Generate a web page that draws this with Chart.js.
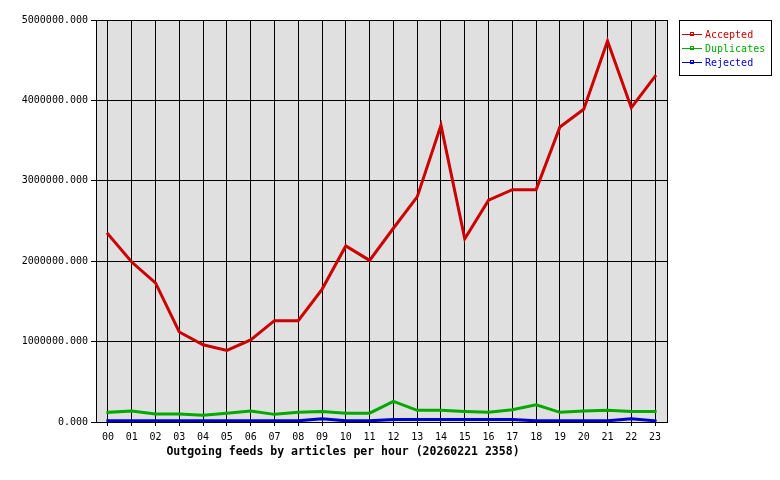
<!DOCTYPE html>
<html>
<head>
<meta charset="utf-8">
<script src="https://cdn.jsdelivr.net/npm/chart.js@4/dist/chart.umd.min.js"></script>
<style>
html,body{margin:0;padding:0;background:#fff;}
#wrap{width:780px;height:480px;}
</style>
</head>
<body>
<div id="wrap"><canvas id="c" width="780" height="480"></canvas></div>
<script>
const hours = ["00","01","02","03","04","05","06","07","08","09","10","11","12","13","14","15","16","17","18","19","20","21","22","23"];
const accepted = [2340000,1990000,1730000,1120000,960000,890000,1020000,1260000,1260000,1650000,2190000,2010000,2410000,2800000,3690000,2280000,2760000,2890000,2890000,3670000,3890000,4740000,3910000,4300000];
const duplicates = [120000,137000,100000,100000,83000,110000,137000,95000,120000,130000,110000,110000,257000,145000,145000,130000,120000,153000,215000,120000,137000,145000,130000,130000];
const rejected = [15000,15000,15000,15000,15000,15000,15000,15000,15000,40000,15000,15000,30000,30000,30000,30000,30000,30000,15000,15000,15000,15000,40000,15000];
const yTicks = [0,1000000,2000000,3000000,4000000,5000000];
const titleText = "Outgoing feeds by articles per hour (20260221 2358)";

const MONO = '"DejaVu Sans Mono", "Liberation Mono", monospace';

const decor = {
  id: 'decor',
  beforeDraw(chart) {
    const a = chart.chartArea, ctx = chart.ctx;
    ctx.save();
    ctx.fillStyle = '#e0e0e0';
    ctx.fillRect(a.left, a.top, a.right - a.left, a.bottom - a.top);
    ctx.restore();
  },
  afterDraw(chart) {
    const a = chart.chartArea, ctx = chart.ctx;
    ctx.save();
    ctx.strokeStyle = '#000';
    ctx.lineWidth = 1;
    ctx.strokeRect(Math.round(a.left) + 0.5, Math.round(a.top) + 0.5, Math.round(a.right - a.left), Math.round(a.bottom - a.top));
    // title
    ctx.fillStyle = '#000';
    ctx.font = 'bold 11.5px ' + MONO;
    ctx.textAlign = 'center';
    ctx.textBaseline = 'middle';
    ctx.fillText(titleText, 343, 452);
    // legend
    const lx = 679, ly = 20, lw = 92, lh = 55;
    ctx.fillStyle = '#fff';
    ctx.fillRect(lx, ly, lw, lh);
    ctx.strokeStyle = '#000';
    ctx.strokeRect(lx + 0.5, ly + 0.5, lw, lh);
    ctx.font = '10px ' + MONO;
    ctx.textAlign = 'left';
    chart.data.datasets.forEach((ds, i) => {
      const y = 34 + i * 14;
      ctx.strokeStyle = ds.borderColor;
      ctx.lineWidth = 1;
      ctx.beginPath();
      ctx.moveTo(682, y + 0.5);
      ctx.lineTo(702, y + 0.5);
      ctx.stroke();
      ctx.strokeRect(690.5, y - 1.5, 3, 3);
      ctx.fillStyle = ds.borderColor;
      ctx.fillText(ds.label, 705, y + 1);
    });
    ctx.restore();
  }
};

new Chart(document.getElementById('c'), {
  type: 'line',
  data: {
    labels: hours,
    datasets: [
      {label: 'Accepted', data: accepted, borderColor: '#cc0000', backgroundColor: '#cc0000'},
      {label: 'Duplicates', data: duplicates, borderColor: '#00aa00', backgroundColor: '#00aa00'},
      {label: 'Rejected', data: rejected, borderColor: '#0000cc', backgroundColor: '#0000cc'}
    ]
  },
  options: {
    responsive: false,
    animation: false,
    devicePixelRatio: 1,
    layout: {padding: {top: 20, right: 113, left: 0, bottom: 0}},
    elements: {
      line: {borderWidth: 3, tension: 0, borderJoinStyle: 'miter', borderCapStyle: 'square'},
      point: {radius: 0, hoverRadius: 0}
    },
    plugins: {legend: {display: false}, title: {display: false}, tooltip: {enabled: false}},
    scales: {
      x: {
        type: 'category',
        offset: true,
        grid: {offset: false, color: '#000', lineWidth: 1, tickLength: 4, tickColor: '#000'},
        border: {color: '#000', width: 1},
        ticks: {color: '#000', font: {family: MONO, size: 10}, padding: 5, maxRotation: 0, autoSkip: false},
        afterFit(s) { s.height = 58; }
      },
      y: {
        min: 0, max: 5000000,
        afterBuildTicks(s) { s.ticks = yTicks.map(v => ({value: v})); },
        grid: {color: '#000', lineWidth: 1, tickLength: 5, tickColor: '#000'},
        border: {color: '#000', width: 1},
        ticks: {color: '#000', font: {family: MONO, size: 10}, padding: 3, callback: v => Number(v).toFixed(3)},
        afterFit(s) { s.width = 96; }
      }
    }
  },
  plugins: [decor]
});
</script>
</body>
</html>
